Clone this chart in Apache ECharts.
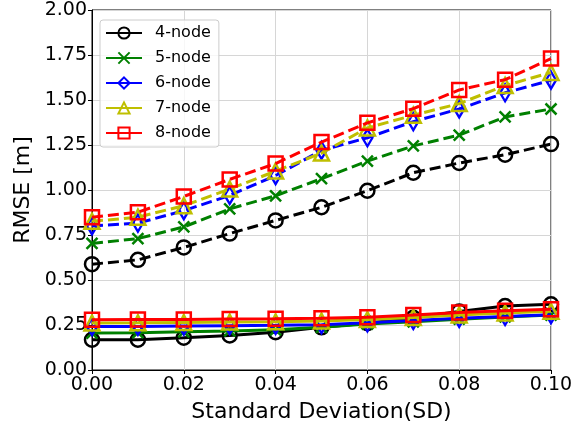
<!DOCTYPE html>
<html>
<head>
<meta charset="utf-8">
<script src="https://cdn.jsdelivr.net/npm/echarts@6/dist/echarts.min.js"></script>
<style>html,body{margin:0;padding:0;background:#fff;}#c{width:588px;height:428px;}</style>
</head>
<body>
<div id="c"></div>
<script>
var sd = [0.00, 0.01, 0.02, 0.03, 0.04, 0.05, 0.06, 0.07, 0.08, 0.09, 0.10];
var names = ['4-node', '5-node', '6-node', '7-node', '8-node'];
var xTicks = [0.00, 0.02, 0.04, 0.06, 0.08, 0.10];
var yTicks = [0.00, 0.25, 0.50, 0.75, 1.00, 1.25, 1.50, 1.75, 2.00];

// dashed (upper) series
var node4Dashed = [0.588, 0.612, 0.681, 0.758, 0.831, 0.904, 0.996, 1.096, 1.150, 1.196, 1.255];
var node5Dashed = [0.703, 0.730, 0.795, 0.895, 0.968, 1.063, 1.160, 1.245, 1.305, 1.406, 1.450];
var node6Dashed = [0.800, 0.816, 0.885, 0.970, 1.080, 1.220, 1.290, 1.380, 1.450, 1.540, 1.610];
var node7Dashed = [0.826, 0.849, 0.913, 1.005, 1.105, 1.205, 1.345, 1.415, 1.480, 1.580, 1.653];
var node8Dashed = [0.849, 0.877, 0.964, 1.059, 1.147, 1.266, 1.373, 1.452, 1.556, 1.613, 1.730];

// solid (lower) series
var node4Solid = [0.168, 0.168, 0.179, 0.192, 0.210, 0.237, 0.260, 0.290, 0.325, 0.355, 0.365];
var node5Solid = [0.205, 0.207, 0.212, 0.217, 0.223, 0.237, 0.255, 0.268, 0.282, 0.295, 0.305];
var node6Solid = [0.241, 0.242, 0.244, 0.246, 0.248, 0.252, 0.262, 0.275, 0.287, 0.297, 0.307];
var node7Solid = [0.261, 0.262, 0.264, 0.266, 0.268, 0.272, 0.280, 0.292, 0.306, 0.316, 0.326];
var node8Solid = [0.279, 0.280, 0.281, 0.283, 0.285, 0.288, 0.293, 0.305, 0.319, 0.329, 0.338];

var dashedData = [node4Dashed, node5Dashed, node6Dashed, node7Dashed, node8Dashed];
var solidData = [node4Solid, node5Solid, node6Solid, node7Solid, node8Solid];

var colors = ['#000000', '#008000', '#0000ff', '#bfbf00', '#ff0000'];
var symbols = [
  'circle',
  'path://M0,0L10,10M10,0L0,10',
  'diamond',
  'triangle',
  'rect'
];
var symbolSizes = [14, 11, [10, 17], 15, 14];

function pairs(arr) { return sd.map(function (x, i) { return [x, arr[i]]; }); }

function makeSeries(i, data, dashed) {
  return {
    name: names[i],
    type: 'line',
    data: pairs(data),
    symbol: symbols[i],
    symbolSize: symbolSizes[i],
    showAllSymbol: true,
    lineStyle: { color: colors[i], width: 3, type: dashed ? [11, 5] : 'solid' },
    itemStyle: { color: i === 1 ? colors[i] : 'rgba(255,255,255,0)', borderColor: colors[i], borderWidth: 2.5 },
    emphasis: { disabled: true },
    animation: false,
    z: 2 + i
  };
}

var series = [];
for (var i = 0; i < 5; i++) series.push(makeSeries(i, solidData[i], false));
for (var j = 0; j < 5; j++) series.push(makeSeries(j, dashedData[j], true));

var chart = echarts.init(document.getElementById('c'));
chart.setOption({
  backgroundColor: '#fff',
  animation: false,
  grid: { left: 92, right: 37, top: 10, bottom: 53, show: true, borderColor: '#000', borderWidth: 1, containLabel: false },
  legend: {
    data: names,
    left: 100,
    top: 20,
    orient: 'vertical',
    itemWidth: 36,
    itemHeight: 14,
    itemGap: 9,
    padding: [5, 8, 6, 5],
    backgroundColor: 'rgba(255,255,255,0.8)',
    borderColor: '#cccccc',
    borderWidth: 1,
    borderRadius: 3,
    textStyle: { fontFamily: 'DejaVu Sans', fontSize: 16, color: '#000', padding: [0, 0, 0, 8] }
  },
  xAxis: {
    type: 'value',
    min: 0,
    max: 0.1,
    interval: 0.02,
    name: 'Standard Deviation(SD)',
    nameLocation: 'middle',
    nameGap: 31,
    nameTextStyle: { fontFamily: 'DejaVu Sans', fontSize: 22, color: '#000' },
    axisLine: { show: true, lineStyle: { color: '#000', width: 1 } },
    axisTick: { show: true, inside: false, length: 4, lineStyle: { color: '#000' } },
    axisLabel: { fontFamily: 'DejaVu Sans', fontSize: 19, color: '#000', margin: 6,
      formatter: function (v) { return v.toFixed(2); } },
    splitLine: { show: true, lineStyle: { color: '#d6d6d6', width: 1 } }
  },
  yAxis: {
    type: 'value',
    min: 0,
    max: 2,
    interval: 0.25,
    name: 'RMSE [m]',
    nameLocation: 'middle',
    nameGap: 57,
    nameTextStyle: { fontFamily: 'DejaVu Sans', fontSize: 22, color: '#000' },
    axisLine: { show: true, lineStyle: { color: '#000', width: 1 } },
    axisTick: { show: true, inside: false, length: 4, lineStyle: { color: '#000' } },
    axisLabel: { fontFamily: 'DejaVu Sans', fontSize: 19, color: '#000', margin: 5,
      formatter: function (v) { return v.toFixed(2); } },
    splitLine: { show: true, lineStyle: { color: '#d6d6d6', width: 1 } }
  },
  series: series
});
</script>
</body>
</html>
